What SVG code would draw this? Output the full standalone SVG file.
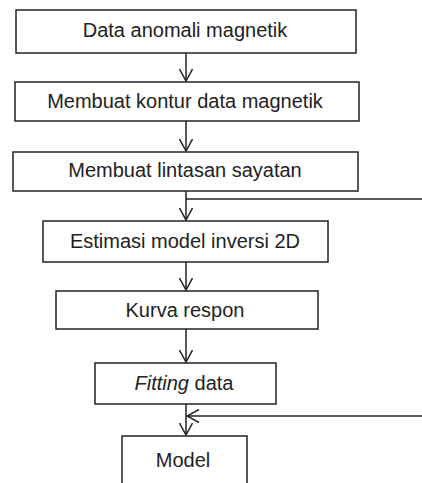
<svg xmlns="http://www.w3.org/2000/svg" width="422" height="483" viewBox="0 0 422 483">
<style>
.box{fill:#fff;stroke:#222;stroke-width:1.5}
.t{font-family:"Liberation Sans",Arial,sans-serif;font-size:20px;fill:#222;text-anchor:middle}
.c{fill:none;stroke:#222;stroke-width:1.5}
</style>
<defs>
<marker id="v" viewBox="0 0 14 14" refX="13" refY="7" markerWidth="14" markerHeight="14" markerUnits="userSpaceOnUse" orient="auto">
<path d="M1,0.5 L13,7 L1,13.5" fill="none" stroke="#222" stroke-width="1.5"/>
</marker>
</defs>
<rect width="422" height="483" fill="#fff"/>
<g id="connectors">
<line class="c" x1="186" y1="53" x2="186" y2="81" marker-end="url(#v)"/>
<line class="c" x1="186" y1="121" x2="186" y2="151" marker-end="url(#v)"/>
<line class="c" x1="186" y1="191" x2="186" y2="220" marker-end="url(#v)"/>
<line class="c" x1="186" y1="199" x2="422" y2="199"/>
<line class="c" x1="186" y1="262" x2="186" y2="290" marker-end="url(#v)"/>
<line class="c" x1="186" y1="329" x2="186" y2="362" marker-end="url(#v)"/>
<line class="c" x1="186" y1="404" x2="186" y2="435" marker-end="url(#v)"/>
<line class="c" x1="422" y1="416" x2="187" y2="416" marker-end="url(#v)"/>
</g>
<g id="n1"><rect class="box" x="16" y="10" width="340" height="43"/><text class="t" x="185" y="37">Data anomali magnetik</text></g>
<g id="n2"><rect class="box" x="15" y="82" width="344" height="39"/><text class="t" x="185" y="108">Membuat kontur data magnetik</text></g>
<g id="n3"><rect class="box" x="13" y="152" width="345" height="39"/><text class="t" x="185" y="177">Membuat lintasan sayatan</text></g>
<g id="n4"><rect class="box" x="43" y="221" width="285" height="41"/><text class="t" x="185" y="248">Estimasi model inversi 2D</text></g>
<g id="n5"><rect class="box" x="56" y="291" width="262" height="38"/><text class="t" x="185" y="317">Kurva respon</text></g>
<g id="n6"><rect class="box" x="95" y="363" width="181" height="41"/><text class="t" x="184" y="390"><tspan font-style="italic">Fitting</tspan> data</text></g>
<g id="n7"><rect class="box" x="122" y="436" width="125" height="60"/><text class="t" x="183" y="467">Model</text></g>
</svg>
